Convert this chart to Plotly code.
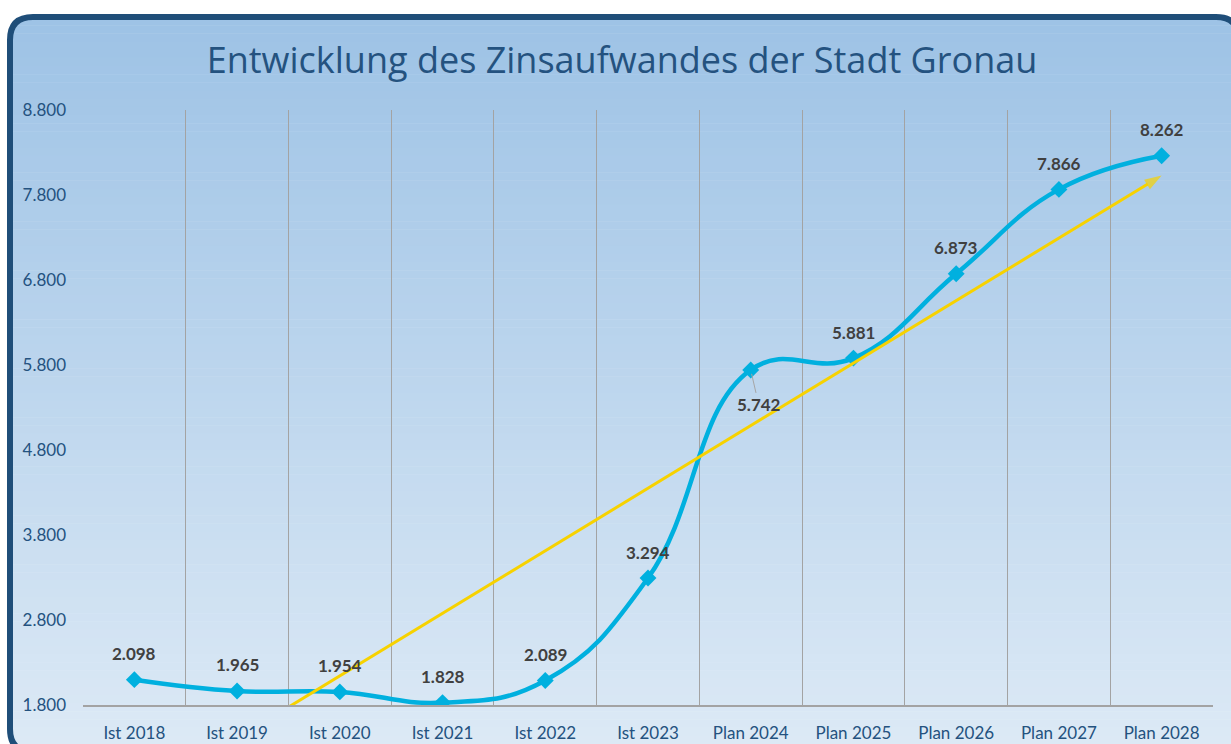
import numpy as np
import plotly.graph_objects as go

# data
categories = ['Ist 2018', 'Ist 2019', 'Ist 2020', 'Ist 2021', 'Ist 2022', 'Ist 2023',
              'Plan 2024', 'Plan 2025', 'Plan 2026', 'Plan 2027', 'Plan 2028']
zinsaufwand = [2098, 1965, 1954, 1828, 2089, 3294, 5742, 5881, 6873, 7866, 8262]
y_ticks = [1800, 2800, 3800, 4800, 5800, 6800, 7800, 8800]

W, H = 1231, 744


def px(x):
    return x / W


def py(y):
    return 1 - y / H


def fmt(v):
    return f"{v:,}".replace(',', '.')


# linear trendline (like the excel one)
idx = np.arange(len(zinsaufwand))
slope, icpt = np.polyfit(idx, zinsaufwand, 1)
trend_y = [icpt, icpt + slope * idx[-1]]

fig = go.Figure()

fig.add_trace(go.Scatter(
    x=categories, y=zinsaufwand, mode='lines+markers',
    line=dict(color='#00B0DF', width=4.5, shape='spline', smoothing=1.25),
    marker=dict(symbol='diamond', size=13, color='#00B0DF'),
    hoverinfo='skip', showlegend=False,
))

fig.add_trace(go.Scatter(
    x=[categories[0], categories[-1]], y=trend_y, mode='lines+markers',
    line=dict(color='#F7D200', width=3),
    marker=dict(symbol='arrow', size=[0, 18], color='#F7D200', angleref='previous',
                line=dict(width=0)),
    hoverinfo='skip', showlegend=False,
))

# data labels
lab_font = dict(family='Lato', size=17, color='#404040', weight='bold')
for cat, val in zip(categories, zinsaufwand):
    if cat == 'Plan 2024':
        fig.add_annotation(x=cat, y=val, text=fmt(val), showarrow=True, arrowhead=0,
                           arrowwidth=1, arrowcolor='#A6A6A6', ax=8, ay=35, standoff=4,
                           font=lab_font)
    else:
        fig.add_annotation(x=cat, y=val, text=fmt(val), showarrow=False, yshift=26,
                           font=lab_font)

# background: gradient bands inside a rounded frame
L, T, R, B, r = 10, 17, 1239, 752, 23
top_c = np.array([158, 195, 230])
bot_c = np.array([221, 234, 246])
shapes = []
n = 90
for i in range(n):
    y0 = T + (B - T) * i / n
    y1 = T + (B - T) * (i + 1) / n + 0.5
    c = top_c + (bot_c - top_c) * i / (n - 1)
    shapes.append(dict(type='rect', xref='paper', yref='paper', layer='below',
                       x0=px(L), x1=px(R), y0=py(y0), y1=py(y1),
                       fillcolor=f'rgb({int(c[0])},{int(c[1])},{int(c[2])})', line_width=0))

for cx, cy, sx, sy in [(L, T, 1, 1), (R, T, -1, 1), (L, B, 1, -1), (R, B, -1, -1)]:
    path = (f"M {px(cx - sx * 8)},{py(cy - sy * 8)} L {px(cx + sx * r)},{py(cy - sy * 8)} "
            f"L {px(cx + sx * r)},{py(cy)} Q {px(cx)},{py(cy)} {px(cx)},{py(cy + sy * r)} "
            f"L {px(cx - sx * 8)},{py(cy + sy * r)} Z")
    shapes.append(dict(type='path', xref='paper', yref='paper', layer='below', path=path,
                       fillcolor='white', line_width=0))

frame = (f"M {px(L + r)},{py(T)} L {px(R - r)},{py(T)} Q {px(R)},{py(T)} {px(R)},{py(T + r)} "
         f"L {px(R)},{py(B - r)} Q {px(R)},{py(B)} {px(R - r)},{py(B)} "
         f"L {px(L + r)},{py(B)} Q {px(L)},{py(B)} {px(L)},{py(B - r)} "
         f"L {px(L)},{py(T + r)} Q {px(L)},{py(T)} {px(L + r)},{py(T)} Z")
shapes.append(dict(type='path', xref='paper', yref='paper', layer='below', path=frame,
                   line=dict(color='#1F4E79', width=6)))

fig.update_layout(
    width=W, height=H,
    margin=dict(l=0, r=0, t=0, b=0, autoexpand=False),
    paper_bgcolor='white', plot_bgcolor='rgba(0,0,0,0)',
    separators=',.',
    shapes=shapes,
    title=dict(text='Entwicklung des Zinsaufwandes der Stadt Gronau',
               x=px(622), xanchor='center', y=py(60), yanchor='middle',
               font=dict(family='Open Sans', size=36, color='#24527F')),
    font=dict(family='Lato', size=17, color='#24527F'),
    xaxis=dict(domain=[px(83), px(1213)], type='category', categoryorder='array',
               categoryarray=categories, range=[-0.5, len(categories) - 0.5],
               tickson='boundaries', showgrid=True, gridcolor='#A3A3A3', gridwidth=1,
               showline=True, linecolor='#A3A3A3', linewidth=1.5, ticks='',
               ticklabelstandoff=12, zeroline=False, fixedrange=True),
    yaxis=dict(domain=[py(705), py(110)], range=[1800, 8800], tickvals=y_ticks,
               tickformat=',d', showgrid=False, zeroline=False, ticks='',
               ticklabelstandoff=16, fixedrange=True),
)

# drop the default page margin so the figure sits flush in the window
fig.write_html("out.html", config={'displayModeBar': False},
               post_script="document.body.style.margin='0';document.body.style.overflow='hidden';")
